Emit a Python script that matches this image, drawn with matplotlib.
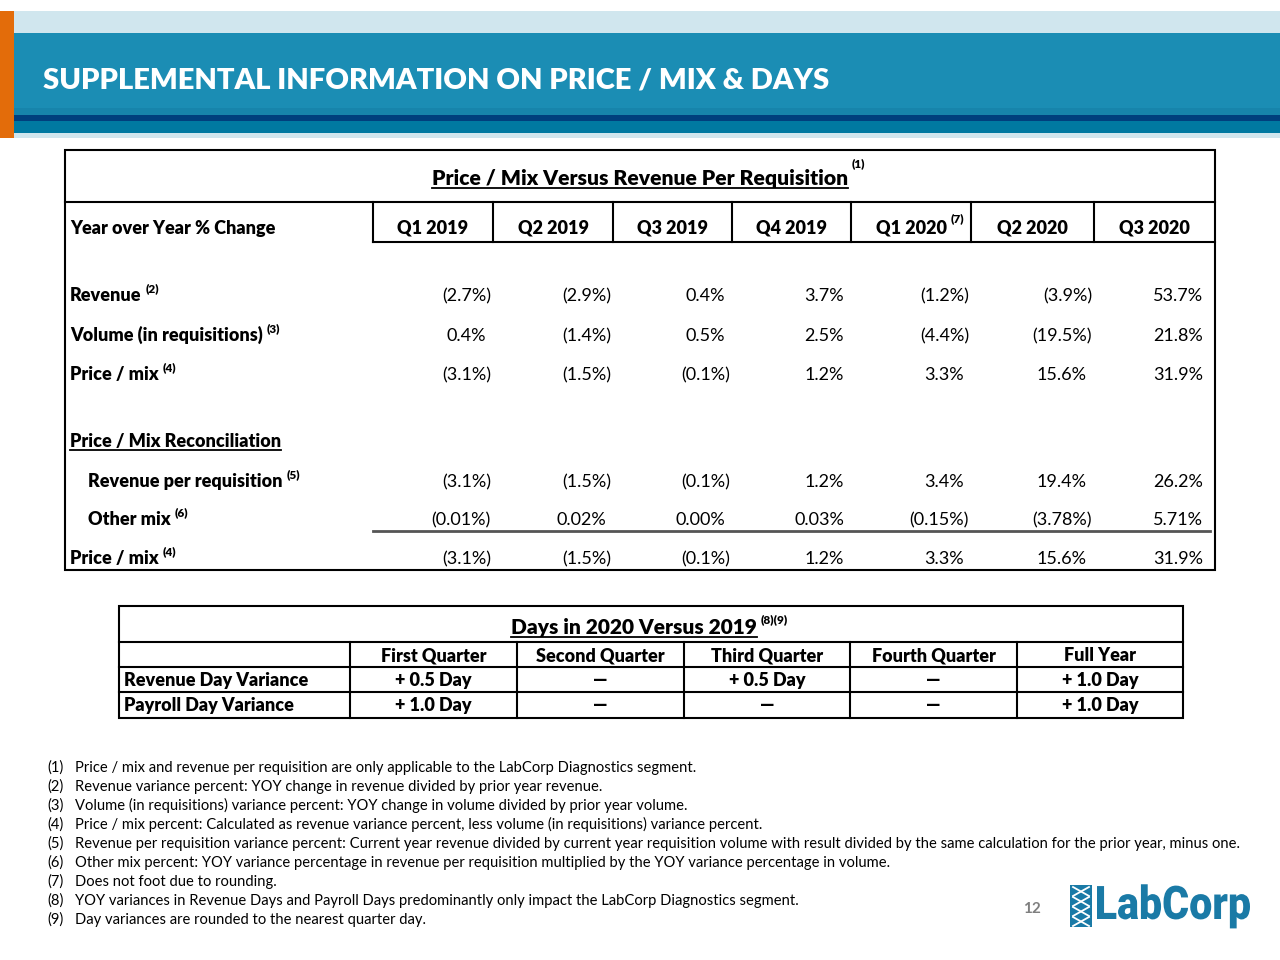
"""
Recreation of the LabCorp slide: supplemental information on price / mix & days.
"""
# %% IMPORTS
import matplotlib
matplotlib.use("Agg")
import matplotlib.pyplot as plt
from matplotlib.patches import Rectangle, PathPatch
from matplotlib.textpath import TextPath
from matplotlib.font_manager import FontProperties
from matplotlib.transforms import Affine2D

plt.rcParams["font.family"] = ["Lato", "DejaVu Sans"]

# %% DATA
quarters = ["Q1 2019", "Q2 2019", "Q3 2019", "Q4 2019", "Q1 2020", "Q2 2020", "Q3 2020"]
revenue = [-2.7, -2.9, 0.4, 3.7, -1.2, -3.9, 53.7]
volume = [0.4, -1.4, 0.5, 2.5, -4.4, -19.5, 21.8]
price_mix = [-3.1, -1.5, -0.1, 1.2, 3.3, 15.6, 31.9]
rev_per_req = [-3.1, -1.5, -0.1, 1.2, 3.4, 19.4, 26.2]
other_mix = [-0.01, 0.02, 0.00, 0.03, -0.15, -3.78, 5.71]

day_cols = ["First Quarter", "Second Quarter", "Third Quarter", "Fourth Quarter", "Full Year"]
revenue_days = [0.5, None, 0.5, None, 1.0]
payroll_days = [1.0, None, None, None, 1.0]

footnotes = [
    "Price / mix and revenue per requisition are only applicable to the LabCorp Diagnostics segment.",
    "Revenue variance percent: YOY change in revenue divided by prior year revenue.",
    "Volume (in requisitions) variance percent: YOY change in volume divided by prior year volume.",
    "Price / mix percent: Calculated as revenue variance percent, less volume (in requisitions) variance percent.",
    "Revenue per requisition variance percent: Current year revenue divided by current year requisition volume with result divided by the same calculation for the prior year, minus one.",
    "Other mix percent: YOY variance percentage in revenue per requisition multiplied by the YOY variance percentage in volume.",
    "Does not foot due to rounding.",
    "YOY variances in Revenue Days and Payroll Days predominantly only impact the LabCorp Diagnostics segment.",
    "Day variances are rounded to the nearest quarter day.",
]

# %% STYLE
TEAL = "#1b8db4"
LIGHT = "#d0e6ee"
NAVY = "#003f7d"
TEAL2 = "#0079a1"
ORANGE = "#e36c0a"
LOGO = "#1a7aa6"
FS = 13       # table font size
SUP = 8.5     # superscript size
BOLD = "heavy"


def fmt(v, d=1):
    s = f"{abs(v):.{d}f}%"
    return f"({s})" if v < 0 else s


def fmt_day(v):
    return "—" if v is None else f"+ {v:.1f} Day"


# %% FIGURE
fig = plt.figure(figsize=(12.8, 9.6), dpi=100)
ax = fig.add_axes([0, 0, 1, 1])
ax.set_xlim(0, 1280)
ax.set_ylim(960, 0)
ax.axis("off")
renderer = fig.canvas.get_renderer()


def right_edge(t):
    bb = t.get_window_extent(renderer=renderer)
    return ax.transData.inverted().transform((bb.x1, bb.y0))[0]


def left_edge(t):
    bb = t.get_window_extent(renderer=renderer)
    return ax.transData.inverted().transform((bb.x0, bb.y0))[0]


def label(x, y, s, sup=None, sup_dy=9, underline=False, **kw):
    t = ax.text(x, y, s, fontsize=kw.pop("fontsize", FS), fontweight=BOLD,
                va="baseline", **kw)
    if underline:
        ax.plot([left_edge(t), right_edge(t)], [y + 3, y + 3], color="black", lw=1.3)
    if sup:
        ax.text(right_edge(t) + 4, y - sup_dy, sup, fontsize=SUP, fontweight=BOLD,
                va="baseline")
    return t


# header bands
ax.add_patch(Rectangle((0, 11), 1280, 22, color=LIGHT, lw=0))
ax.add_patch(Rectangle((0, 33), 1280, 76, color=TEAL, lw=0))
ax.add_patch(Rectangle((0, 108), 1280, 7, color="#1784ab", lw=0))
ax.add_patch(Rectangle((0, 115), 1280, 6, color=NAVY, lw=0))
ax.add_patch(Rectangle((0, 121), 1280, 12, color=TEAL2, lw=0))
ax.add_patch(Rectangle((0, 133), 1280, 5, color=LIGHT, lw=0))
ax.add_patch(Rectangle((0, 11), 14, 127, color=ORANGE, lw=0))
ax.text(43, 88, "SUPPLEMENTAL INFORMATION ON PRICE / MIX & DAYS", color="white",
        fontsize=21, fontweight=BOLD, va="baseline")

# %% TABLE 1
L, R, T, B = 65, 1215, 150, 570
col_edges = [373, 493, 613, 732, 851, 971, 1094, 1215]
ax.add_patch(Rectangle((L, T), R - L, B - T, fill=False, ec="black", lw=1.5))
ax.plot([L, R], [202, 202], color="black", lw=1.5)
ax.plot([col_edges[0], R], [242, 242], color="black", lw=1.5)
for x in col_edges[:-1]:
    ax.plot([x, x], [202, 242], color="black", lw=1.5)

label(640, 185, "Price / Mix Versus Revenue Per Requisition", sup="(1)", sup_dy=18,
      underline=True, ha="center", fontsize=15.2)
label(70, 234, "Year over Year % Change")
for i, q in enumerate(quarters):
    cx = (col_edges[i] + col_edges[i + 1]) / 2
    label(cx, 234, q, sup="(7)" if q == "Q1 2020" else None, sup_dy=12, ha="center")

rows = [
    ("Revenue", "(2)", 70, 301, revenue, 1),
    ("Volume (in requisitions)", "(3)", 70, 341, volume, 1),
    ("Price / mix", "(4)", 70, 380, price_mix, 1),
    ("Revenue per requisition", "(5)", 88, 487, rev_per_req, 1),
    ("Other mix", "(6)", 88, 525, other_mix, 2),
    ("Price / mix", "(4)", 70, 564, price_mix, 1),
]
for name, sup, x, y, vals, d in rows:
    label(x, y, name, sup=sup)
    for i, v in enumerate(vals):
        edge = col_edges[i + 1]
        if i == len(vals) - 1:
            xr = edge - 12
        else:
            xr = edge - 2 if v < 0 else edge - 7
        ax.text(xr, y, fmt(v, d), fontsize=FS, ha="right", va="baseline")
label(70, 447, "Price / Mix Reconciliation", underline=True)
ax.plot([col_edges[0], 1210], [531, 531], color="#555555", lw=2)

# %% TABLE 2 (days)
L2, R2, T2, B2 = 119, 1183, 606, 718
d_edges = [350, 517, 684, 850, 1017, 1183]
h_lines = [642, 667, 692]
ax.add_patch(Rectangle((L2, T2), R2 - L2, B2 - T2, fill=False, ec="black", lw=1.5))
for y in h_lines:
    ax.plot([L2, R2], [y, y], color="black", lw=1.5)
for x in d_edges[:-1]:
    ax.plot([x, x], [642, B2], color="black", lw=1.5)
label(634, 634, "Days in 2020 Versus 2019", sup="(8)(9)", sup_dy=11, underline=True,
      ha="center", fontsize=15)
for i, c in enumerate(day_cols):
    cx = (d_edges[i] + d_edges[i + 1]) / 2
    label(cx, 661, c, ha="center")
    label(cx, 686, fmt_day(revenue_days[i]), ha="center")
    label(cx, 711, fmt_day(payroll_days[i]), ha="center")
label(124, 686, "Revenue Day Variance")
label(124, 711, "Payroll Day Variance")

# %% FOOTNOTES
for i, note in enumerate(footnotes):
    y = 772 + 19 * i
    ax.text(47, y, f"({i + 1})", fontsize=10.6, va="baseline")
    ax.text(75, y, note, fontsize=10.6, va="baseline")

# %% PAGE NUMBER & LOGO
ax.text(1032, 913, "12", color="#7f7f7f", fontsize=11, fontweight="bold",
        ha="center", va="baseline")
ax.add_patch(Rectangle((1070, 885), 22, 42, color=LOGO, lw=0))
for k in range(4):
    y0 = 887 + k * 10
    ax.plot([1073, 1089], [y0, y0 + 9], color="white", lw=1.3)
    ax.plot([1089, 1073], [y0, y0 + 9], color="white", lw=1.3)
# logo word: squeeze a bold glyph path into the logo box
tp = TextPath((0, 0), "LabCorp", size=40, prop=FontProperties(family="Roboto", weight="black"))
ext = tp.get_extents()
sx = 153 / ext.width
sy = 33 / 28.5  # cap height of Roboto at size 40 is about 28.5
logo_tf = Affine2D().translate(-ext.x0, 0).scale(sx, -sy).translate(1097, 919) + ax.transData
ax.add_patch(PathPatch(tp, color=LOGO, lw=0, transform=logo_tf))

fig.savefig("out.png", dpi=100)
